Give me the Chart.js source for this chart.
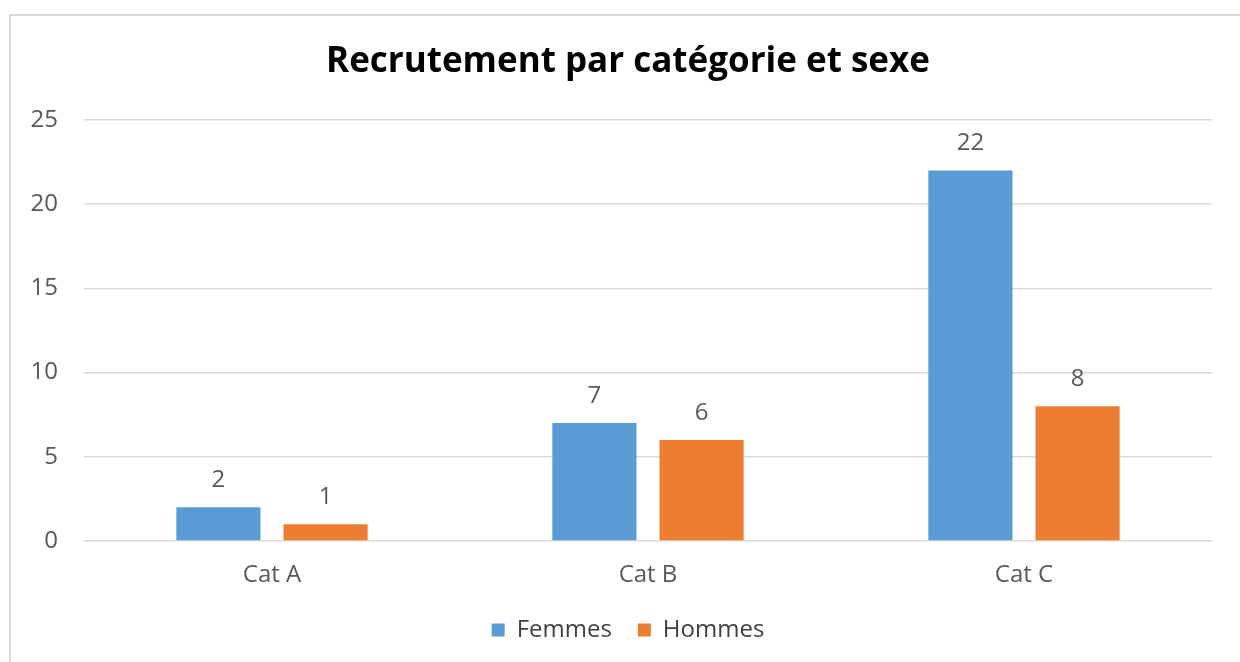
<!DOCTYPE html>
<html lang="fr">
<head>
    <meta charset="UTF-8">
    <title>Recrutement par catégorie et sexe</title>
    <script src="https://cdn.jsdelivr.net/npm/chart.js"></script>
    <style>
        html, body { margin: 0; padding: 0; background: #fff; overflow: hidden; }
        #frame {
            position: absolute; left: 9px; top: 14px;
            width: 1300px; height: 700px;
            border: 2px solid #d9d9d9; box-sizing: border-box;
        }
        #wrap { position: absolute; left: 0; top: 0; width: 1240px; height: 662px; }
    </style>
</head>
<body>
    <div id="frame"></div>
    <div id="wrap"><canvas id="chart"></canvas></div>

    <script>
        // Données du graphique
        const categories = ['Cat A', 'Cat B', 'Cat C'];
        const femmes = [2, 7, 22];
        const hommes = [1, 6, 8];
        const yTicks = [0, 5, 10, 15, 20, 25];

        const FONT = '"Open Sans", "Liberation Sans", sans-serif';

        // Étiquettes de valeur au-dessus des barres
        const valueLabels = {
            id: 'valueLabels',
            afterDatasetsDraw(chart) {
                const ctx = chart.ctx;
                ctx.save();
                ctx.font = '24px ' + FONT;
                ctx.fillStyle = '#595959';
                ctx.textAlign = 'center';
                ctx.textBaseline = 'middle';
                chart.data.datasets.forEach((ds, i) => {
                    chart.getDatasetMeta(i).data.forEach((bar, j) => {
                        ctx.fillText(ds.data[j], bar.x, bar.y - 27);
                    });
                });
                ctx.restore();
            }
        };

        // Titre et légende un peu décalés à droite, comme dans Excel
        const shiftBlocks = {
            id: 'shiftBlocks',
            afterLayout(chart) {
                if (chart.titleBlock) chart.titleBlock.left += 34;
                if (chart.legend) chart.legend.left += 34;
            }
        };

        new Chart(document.getElementById('chart'), {
            type: 'bar',
            data: {
                labels: categories,
                datasets: [
                    { label: 'Femmes', data: femmes, backgroundColor: '#5b9bd5' },
                    { label: 'Hommes', data: hommes, backgroundColor: '#ed7d31' }
                ]
            },
            options: {
                responsive: true,
                maintainAspectRatio: false,
                animation: false,
                categoryPercentage: 0.57,
                barPercentage: 0.785,
                layout: { padding: { left: 10, right: 28, top: 0, bottom: 10 } },
                scales: {
                    y: {
                        min: 0, max: 25,
                        afterBuildTicks: (axis) => { axis.ticks = yTicks.map(v => ({ value: v })); },
                        afterFit: (axis) => { axis.width = 74; },
                        border: { display: false },
                        grid: { color: '#d9d9d9', lineWidth: 1.5, drawTicks: false },
                        ticks: { color: '#595959', font: { family: FONT, size: 24 }, padding: 26 }
                    },
                    x: {
                        afterFit: (axis) => { axis.height = 51; },
                        border: { display: false },
                        grid: { display: false, drawTicks: false },
                        ticks: { color: '#595959', font: { family: FONT, size: 24 }, padding: 20 }
                    }
                },
                plugins: {
                    title: {
                        display: true,
                        text: 'Recrutement par catégorie et sexe',
                        color: '#000',
                        font: { family: FONT, size: 35, weight: 'bold' },
                        padding: { top: 41, bottom: 37 }
                    },
                    legend: {
                        position: 'bottom',
                        labels: {
                            color: '#404040',
                            font: { family: FONT, size: 24 },
                            boxWidth: 13, boxHeight: 13,
                            padding: 26
                        }
                    },
                    tooltip: { enabled: false }
                }
            },
            plugins: [valueLabels, shiftBlocks]
        });
    </script>
</body>
</html>
